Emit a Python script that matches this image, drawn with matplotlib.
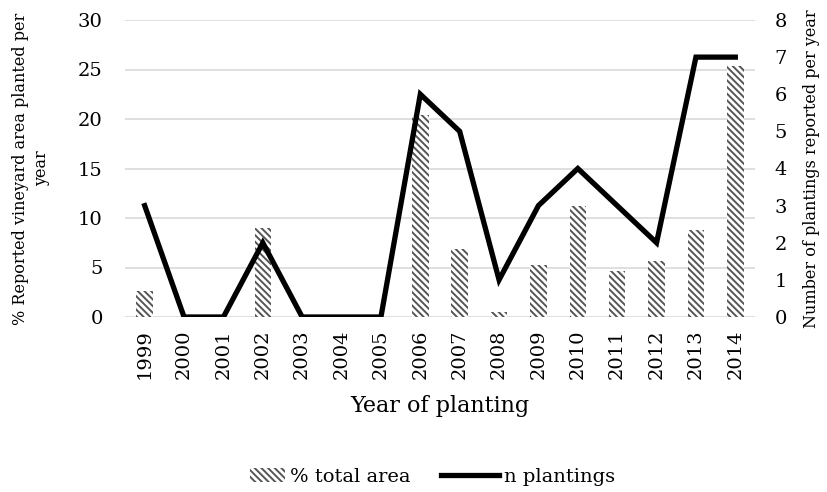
import numpy as np
import matplotlib
matplotlib.use('Agg')
import matplotlib.pyplot as plt
from matplotlib import rcParams
from matplotlib.patches import Rectangle
from matplotlib.legend_handler import HandlerPatch

rcParams['font.family'] = ['DejaVu Serif']
rcParams['hatch.linewidth'] = 1.4

# data
years = ['1999', '2000', '2001', '2002', '2003', '2004', '2005', '2006',
         '2007', '2008', '2009', '2010', '2011', '2012', '2013', '2014']
pct_area = [2.6, 0, 0, 9.0, 0, 0, 0, 20.4, 6.9, 0.5, 5.3, 11.2, 4.6, 5.7, 8.8, 25.4]
n_plantings = [3, 0, 0, 2, 0, 0, 0, 6, 5, 1, 3, 4, 3, 2, 7, 7]

x = np.arange(len(years))


def short_patch(legend, orig_handle, xdescent, ydescent, width, height, fontsize):
    # narrower swatch, pushed to the right of the handle box
    w = width * 0.6
    return Rectangle((width - w - xdescent, -ydescent), w, height)


fig = plt.figure(figsize=(8.27, 4.92), dpi=100)
ax = fig.add_axes([125 / 827, 1 - 317 / 492, 630 / 827, 297 / 492])
ax2 = ax.twinx()

bars = ax.bar(x, pct_area, width=0.42, facecolor='white', edgecolor='#555555',
              linewidth=0, hatch='\\\\\\\\\\', label='% total area', zorder=2)
ln, = ax2.plot(x, n_plantings, color='black', linewidth=3.8,
               solid_joinstyle='miter', label='n plantings', zorder=3)

ax.set_ylim(0, 30)
ax.set_yticks(np.arange(0, 31, 5))
ax2.set_ylim(0, 8)
ax2.set_yticks(np.arange(0, 9, 1))
ax.set_xlim(-0.5, len(years) - 0.5)
ax.set_xticks(x)
ax.set_xticklabels(years, rotation=90)

ax.yaxis.grid(True, color='#d9d9d9', linewidth=1.2, zorder=0)
ax.set_axisbelow(True)
for a in (ax, ax2):
    for s in a.spines.values():
        s.set_visible(False)
    a.tick_params(length=0, labelsize=14)
ax.tick_params(axis='y', pad=16)
ax2.tick_params(axis='y', pad=14)
ax.tick_params(axis='x', pad=9)

ax.set_ylabel('% Reported vineyard area planted per\nyear', fontsize=11.5,
              linespacing=1.3)
ax.yaxis.set_label_coords(-0.119, 0.5)
ax2.set_ylabel('Number of plantings reported per year', fontsize=11.5)
ax2.yaxis.set_label_coords(1.076, 0.5)
ax.set_xlabel('Year of planting', fontsize=16)
ax.xaxis.set_label_coords(0.5, -0.263)

fig.legend([bars.patches[0], ln], ['% total area', 'n plantings'],
           loc='center left', bbox_to_anchor=(227 / 827, 1 - 477 / 492),
           ncol=2, frameon=False, fontsize=14, handlelength=3.0,
           handleheight=0.7, columnspacing=1.55, handletextpad=0.25,
           borderpad=0, borderaxespad=0,
           handler_map={Rectangle: HandlerPatch(patch_func=short_patch)})

fig.savefig('out.png', dpi=100)
plt.close(fig)
